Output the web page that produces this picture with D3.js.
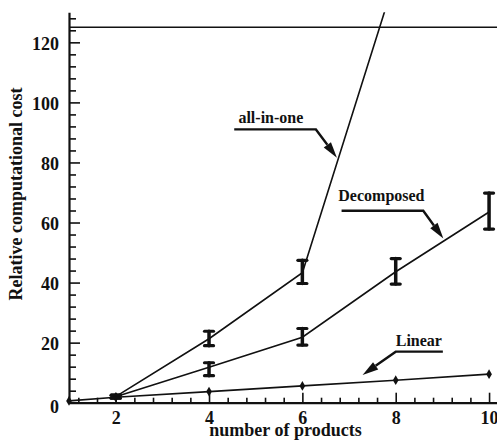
<!DOCTYPE html>
<html>
<head>
<meta charset="utf-8">
<script src="https://cdn.jsdelivr.net/npm/d3@7"></script>
<style>
    body { margin: 0; background: #fff; }
    text { font-family: "Liberation Serif", "Times New Roman", serif; font-weight: bold; fill: #111; }
</style>
</head>
<body>
<div id="chart"></div>
<script>

// values
var products = [1, 2, 4, 6, 8, 10]
var linearCost = [0.6, 1.8, 3.7, 5.6, 7.5, 9.5]

var decompProducts = [2, 4, 6, 8, 10]
var decompCost = [2, 11.8, 21.8, 43.6, 63.5]
var decompLow = [1.5, 9, 19.2, 39.5, 57.8]
var decompHigh = [2.5, 13.3, 24.7, 48, 69.8]

var allProducts = [2, 4, 6, 8]
var allCost = [2, 21.3, 43.3, 142]   // last point is off the top, clipped
var allLow = [1.5, 19, 39.7]
var allHigh = [2.5, 23.8, 47.4]

var refLevel = 125
var xTicks = [2, 4, 6, 8, 10]
var yTicks = [0, 20, 40, 60, 80, 100, 120]

// annotation labels: text start, leader elbow and arrow tip in data units
var notes = [
    {text: 'all-in-one', tx: 4.63, ty: 93.2, from: [4.54, 91], elbow: [6.29, 91], tip: [6.74, 81.6]},
    {text: 'Decomposed', tx: 6.77, ty: 67.3, from: [6.84, 63.9], elbow: [8.59, 63.9], tip: [9.02, 54.7]},
    {text: 'Linear', tx: 8.0, ty: 18.9, from: [9.01, 17], elbow: [8.0, 17], tip: [7.29, 9.2]}
]

var width = 497, height = 442
var margin = {top: 12.3, right: 0, bottom: 39.3, left: 69}

var svg = d3.select('#chart')
    .append('svg')
        .attr('width', width)
        .attr('height', height)

var x = d3.scaleLinear().domain([1, 10.17]).range([margin.left, width - margin.right])
var y = d3.scaleLinear().domain([0, 130]).range([height - margin.bottom, margin.top])

// clip for the steep all-in-one line
svg.append('clipPath').attr('id', 'plotclip')
    .append('rect')
        .attr('x', x(1)).attr('y', y(130))
        .attr('width', x(10.17) - x(1)).attr('height', y(0) - y(130))

// minor ticks
var xMinor = d3.range(1.2, 10.1, 0.4).filter(function(v) { return Math.abs(v / 2 - Math.round(v / 2)) > 0.01 })
var yMinor = d3.range(4, 130, 4).filter(function(v) { return v % 20 !== 0 })

svg.append('g')
    .attr('transform', 'translate(0,' + y(0) + ')')
    .call(d3.axisBottom(x).tickValues(xMinor).tickSizeInner(-5).tickSizeOuter(0).tickFormat(''))
    .call(function(g) { g.select('.domain').remove() })

svg.append('g')
    .attr('transform', 'translate(' + x(1) + ',0)')
    .call(d3.axisLeft(y).tickValues(yMinor).tickSizeInner(-7).tickSizeOuter(0).tickFormat(''))
    .call(function(g) { g.select('.domain').remove() })

// major axes
var xAxis = svg.append('g')
    .attr('transform', 'translate(0,' + y(0) + ')')
    .call(d3.axisBottom(x).tickValues(xTicks).tickSizeInner(-10).tickSizeOuter(0).tickPadding(11))

var yAxis = svg.append('g')
    .attr('transform', 'translate(' + x(1) + ',0)')
    .call(d3.axisLeft(y).tickValues(yTicks).tickSizeInner(-11).tickSizeOuter(0).tickPadding(10))

svg.selectAll('g').attr('font-family', null).attr('font-size', null)
svg.selectAll('.tick line').attr('stroke', '#111').attr('stroke-width', 1.6)
svg.selectAll('.domain').attr('stroke', '#111').attr('stroke-width', 2.2)
xAxis.selectAll('text').style('font-size', '18px').attr('dy', '0.57em')
yAxis.selectAll('text').style('font-size', '18px')
    .attr('dy', function(d) { return d === 0 ? '0.55em' : '0.4em' })

// reference level
svg.append('line')
    .attr('x1', x(1)).attr('x2', x(10.17))
    .attr('y1', y(refLevel)).attr('y2', y(refLevel))
    .attr('stroke', '#111').attr('stroke-width', 1.6)

var line = d3.line()
    .x(function(d) { return x(d[0]) })
    .y(function(d) { return y(d[1]) })

var plot = svg.append('g').attr('clip-path', 'url(#plotclip)')

plot.append('path')
    .datum(d3.zip(products, linearCost))
    .attr('d', line)
    .attr('fill', 'none').attr('stroke', '#111').attr('stroke-width', 1.6)

plot.append('path')
    .datum(d3.zip(decompProducts, decompCost))
    .attr('d', line)
    .attr('fill', 'none').attr('stroke', '#111').attr('stroke-width', 1.6)

plot.append('path')
    .datum(d3.zip(allProducts, allCost))
    .attr('d', line)
    .attr('fill', 'none').attr('stroke', '#111').attr('stroke-width', 1.6)

// diamonds on the linear series
svg.selectAll('.diamond')
    .data(d3.zip(products, linearCost))
    .enter()
    .append('path')
        .attr('class', 'diamond')
        .attr('d', d3.symbol().type(d3.symbolDiamond).size(28))
        .attr('transform', function(d) { return 'translate(' + x(d[0]) + ',' + y(d[1]) + ')' })
        .attr('fill', '#111')

// I-shaped error bars
function errorBars(xs, lows, highs) {
    var bars = d3.zip(xs.slice(0, lows.length), lows, highs)
    var g = svg.append('g').attr('stroke', '#111').attr('stroke-linecap', 'round')
    g.selectAll('.stem')
        .data(bars)
        .enter()
        .append('line')
            .attr('x1', function(d) { return x(d[0]) })
            .attr('x2', function(d) { return x(d[0]) })
            .attr('y1', function(d) { return y(d[1]) })
            .attr('y2', function(d) { return y(d[2]) })
            .attr('stroke-width', 3.5)
    g.selectAll('.cap')
        .data(bars.flatMap(function(d) { return [[d[0], d[1]], [d[0], d[2]]] }))
        .enter()
        .append('line')
            .attr('x1', function(d) { return x(d[0]) - 4.5 })
            .attr('x2', function(d) { return x(d[0]) + 4.5 })
            .attr('y1', function(d) { return y(d[1]) })
            .attr('y2', function(d) { return y(d[1]) })
            .attr('stroke-width', 3.2)
}
errorBars(decompProducts, decompLow, decompHigh)
errorBars(allProducts, allLow, allHigh)

// annotations with leader lines and arrows
notes.forEach(function(n) {
    svg.append('text')
        .attr('x', x(n.tx)).attr('y', y(n.ty))
        .style('font-size', '16px')
        .text(n.text)

    var ex = x(n.elbow[0]), ey = y(n.elbow[1])
    var tx = x(n.tip[0]), ty = y(n.tip[1])
    var ang = Math.atan2(ty - ey, tx - ex)
    var len = 16, half = 4.5
    var bx = tx - len * Math.cos(ang), by = ty - len * Math.sin(ang)

    svg.append('polyline')
        .attr('points', [[x(n.from[0]), y(n.from[1])], [ex, ey], [bx, by]].map(function(p) { return p.join(',') }).join(' '))
        .attr('fill', 'none').attr('stroke', '#111').attr('stroke-width', 2.4)

    svg.append('polygon')
        .attr('points', [
            [tx, ty],
            [bx + half * Math.sin(ang), by - half * Math.cos(ang)],
            [bx - half * Math.sin(ang), by + half * Math.cos(ang)]
        ].map(function(p) { return p.join(',') }).join(' '))
        .attr('fill', '#111')
})

// axis titles
svg.append('text')
    .attr('x', 285.5).attr('y', 436)
    .attr('text-anchor', 'middle')
    .style('font-size', '18px')
    .text('number of products')

svg.append('text')
    .attr('transform', 'translate(22,194) rotate(-90)')
    .attr('text-anchor', 'middle')
    .style('font-size', '18px')
    .text('Relative computational cost')

</script>
</body>
</html>
